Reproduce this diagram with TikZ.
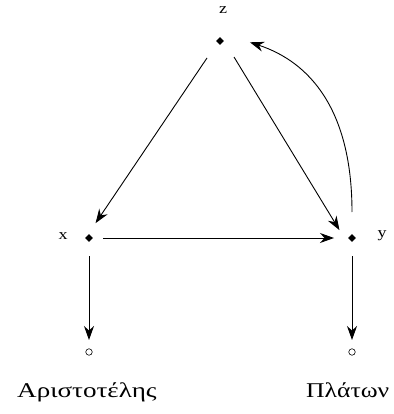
\documentclass[tikz,border=0pt]{standalone}
\usepackage{fontspec}
\usepackage{graphicx}
\setmainfont{Liberation Serif}
\usetikzlibrary{arrows.meta,shapes.geometric}
\begin{document}
\begin{tikzpicture}[x=1pt,y=-1pt,
  dotn/.style={diamond,fill=black,inner sep=0pt,minimum size=8pt},
  odot/.style={circle,draw=black,line width=0.6pt,inner sep=0pt,minimum size=6.5pt},
  lbl/.style={font=\fontsize{15}{15}\selectfont,inner sep=0pt},
  grname/.style={font=\fontsize{21}{21}\selectfont,inner sep=0pt,anchor=base west},
  arr/.style={line width=0.9pt,-{Stealth[length=14pt,width=10pt]},shorten >=1pt}]
\useasboundingbox (0,0) rectangle (393,414);
\node[dotn] (z) at (220,41) {};
\node[dotn] (x) at (89,238) {};
\node[dotn] (y) at (352,238) {};
\node[odot] (a) at (89,352) {};
\node[odot] (p) at (352,352) {};
\node[lbl] (zl) at (223,10) {\scalebox{1.2}[1]{z}};
\node[lbl] (xl) at (63,236) {\scalebox{1.2}[1]{x}};
\node[lbl] (yl) at (382,236) {\scalebox{1.2}[1]{y}};
\node[grname] (an) at (17,397) {\scalebox{1.29}[1]{Αριστοτέλης}};
\node[grname] (pn) at (306,397) {\scalebox{1.22}[1]{Πλάτων}};
\draw[arr] (z) ++(-13,17) coordinate (z1) -- (95,224) coordinate (x1);
\draw[arr] (z) ++(14,16) coordinate (z2) -- (340,231) coordinate (y1);
\draw[arr] (x) ++(14,0) coordinate (xs) -- (335,238) coordinate (ye);
\draw[arr] (y) ++(0,-26) coordinate (ys) .. controls (352,110) and (310,62) .. (249,42) coordinate (ze);
\draw[arr] (x) ++(0,18) coordinate (xd) -- (89,341) coordinate (ae);
\draw[arr] (y) ++(0,18) coordinate (yd) -- (352,341) coordinate (pe);
\end{tikzpicture}
\end{document}
